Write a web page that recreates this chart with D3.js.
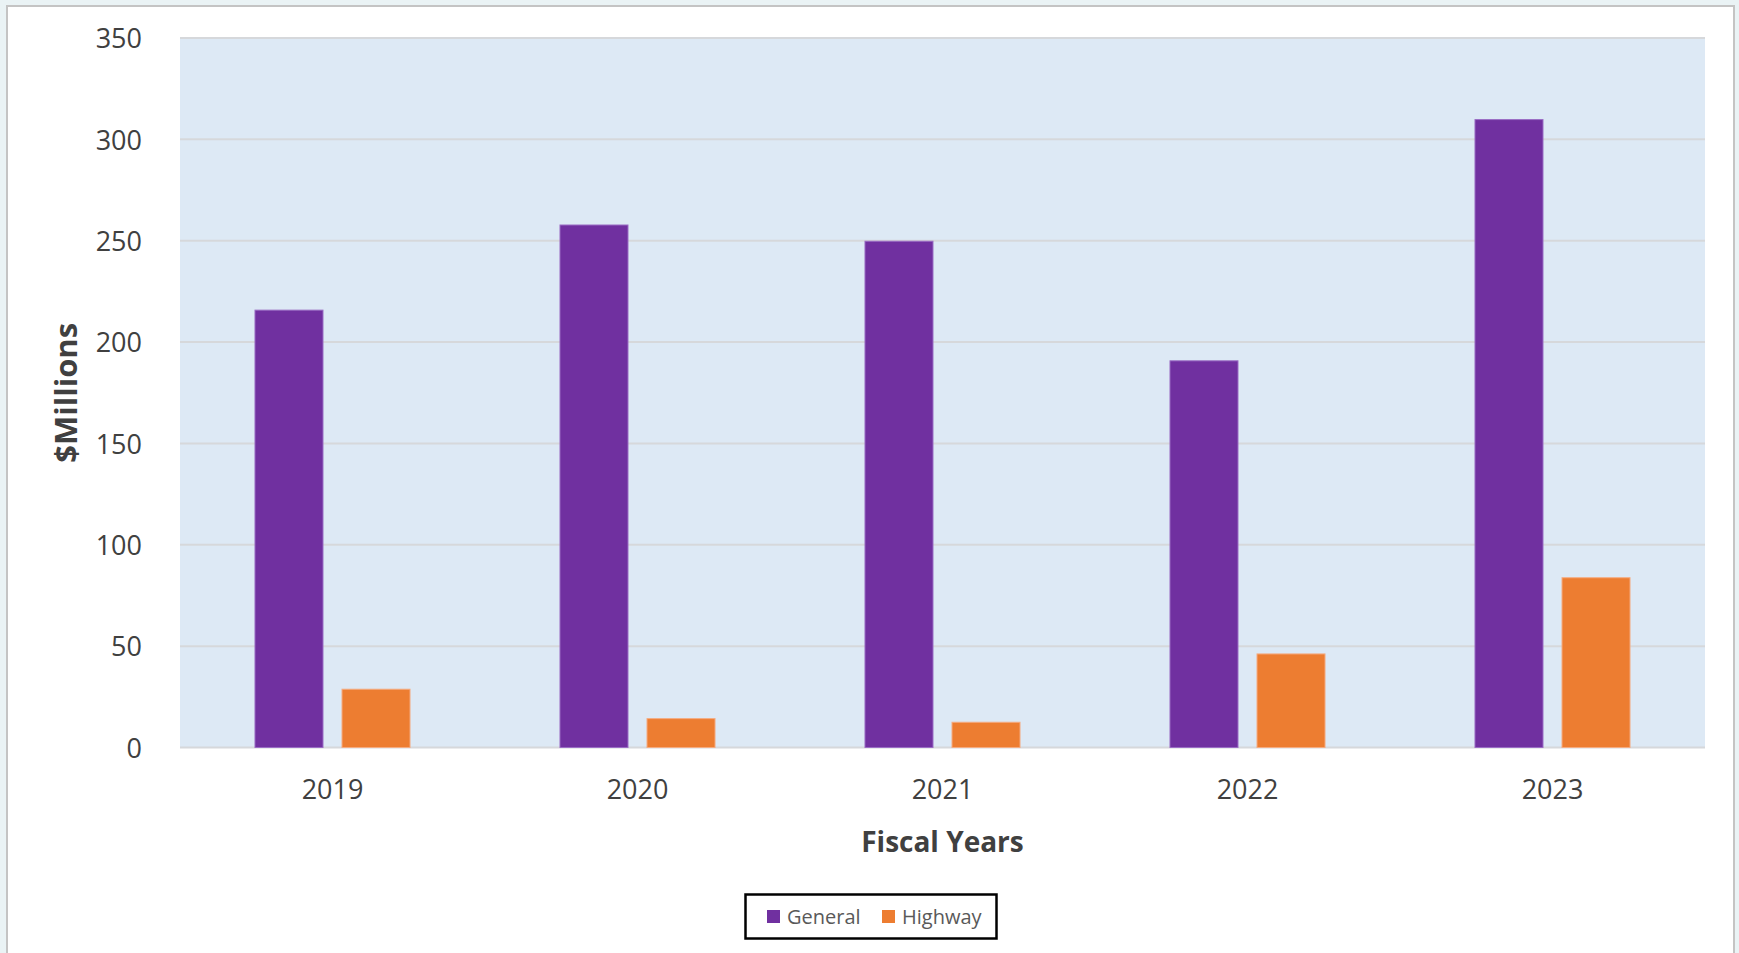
<!DOCTYPE html>
<html>
<head>
<meta charset="utf-8">
<script src="https://cdn.jsdelivr.net/npm/d3@7"></script>
<style>
  html, body { margin: 0; padding: 0; background: #eaf3f5; }
  svg { display: block; }
</style>
</head>
<body>
<svg id="chart" width="1739" height="953"></svg>
<script>
const years = ["2019", "2020", "2021", "2022", "2023"];
const seriesNames = ["General", "Highway"];
const generalValues = [216, 258, 250, 191, 310];
const highwayValues = [29, 14.5, 12.7, 46.4, 84];
const yTicks = [0, 50, 100, 150, 200, 250, 300, 350];
const seriesColors = ["#7030A0", "#ED7D31"];
const seriesStrokes = ["#9a6cc4", "#f5ab80"];

const svg = d3.select("#chart");
const W = 1739, H = 953;
const FONT = "'Open Sans', sans-serif";

// outer frame
svg.append("rect").attr("x", 0).attr("y", 0).attr("width", W).attr("height", H).attr("fill", "#eaf3f5");
svg.append("rect").attr("x", 7).attr("y", 6).attr("width", 1727).attr("height", 960)
  .attr("fill", "#ffffff").attr("stroke", "#c4c4c4").attr("stroke-width", 2);

const plot = { left: 180, right: 1705, top: 38, bottom: 747.5 };

const y = d3.scaleLinear().domain([0, 350]).range([plot.bottom, plot.top]);
const x0 = d3.scaleBand().domain(years).range([plot.left, plot.right]).paddingInner(0).paddingOuter(0);
const x1 = d3.scaleBand().domain(seriesNames).range([0, x0.bandwidth()]).paddingInner(0.207).paddingOuter(0.856);

// plot background
svg.append("rect").attr("x", plot.left).attr("y", plot.top)
  .attr("width", plot.right - plot.left).attr("height", plot.bottom - plot.top)
  .attr("fill", "#dde9f5");

// gridlines
svg.append("g").selectAll("line").data(yTicks).join("line")
  .attr("x1", plot.left).attr("x2", plot.right)
  .attr("y1", d => y(d)).attr("y2", d => y(d))
  .attr("stroke", "#d6d8db").attr("stroke-width", 2);

// y axis labels
const yAxis = d3.axisLeft(y).tickValues(yTicks).tickSize(0).tickPadding(0).tickFormat(d3.format("d"));
const gy = svg.append("g").attr("transform", `translate(${142},0)`).call(yAxis);
gy.select(".domain").remove();
gy.selectAll("text").attr("font-family", FONT).attr("font-size", 27).attr("fill", "#404040").attr("dy", "0.36em");

// x axis labels
const xAxis = d3.axisBottom(x0).tickSize(0).tickPadding(0);
const gx = svg.append("g").attr("transform", `translate(0,${plot.bottom})`).call(xAxis);
gx.select(".domain").remove();
gx.selectAll("text").attr("font-family", FONT).attr("font-size", 27).attr("fill", "#404040")
  .attr("dy", null).attr("y", 51);

// bars
const rows = years.map((yr, i) => ({ year: yr, values: [generalValues[i], highwayValues[i]] }));
const groups = svg.append("g").selectAll("g").data(rows).join("g")
  .attr("transform", d => `translate(${x0(d.year)},0)`);
groups.selectAll("rect").data(d => d.values.map((v, j) => ({ name: seriesNames[j], value: v, j })))
  .join("rect")
  .attr("x", d => x1(d.name) + 0.5)
  .attr("width", x1.bandwidth() - 1)
  .attr("y", d => y(d.value) + 0.5)
  .attr("height", d => y(0) - y(d.value) - 0.5)
  .attr("fill", d => seriesColors[d.j])
  .attr("stroke", d => seriesStrokes[d.j]).attr("stroke-width", 1);

// axis titles
svg.append("text").attr("transform", `translate(77,${(plot.top + plot.bottom) / 2}) rotate(-90)`)
  .attr("text-anchor", "middle").attr("font-family", FONT).attr("font-weight", "bold")
  .attr("font-size", 31).attr("fill", "#404040").text("$Millions");
svg.append("text").attr("x", (plot.left + plot.right) / 2).attr("y", 852)
  .attr("text-anchor", "middle").attr("font-family", FONT).attr("font-weight", "bold")
  .attr("font-size", 28).attr("fill", "#404040").text("Fiscal Years");

// legend
const lg = svg.append("g");
lg.append("rect").attr("x", 745.5).attr("y", 894.5).attr("width", 251).attr("height", 44)
  .attr("fill", "#ffffff").attr("stroke", "#000000").attr("stroke-width", 2.5);
const legendItems = [{ name: seriesNames[0], sx: 767, tx: 787 }, { name: seriesNames[1], sx: 882, tx: 902 }];
legendItems.forEach((it, i) => {
  lg.append("rect").attr("x", it.sx).attr("y", 910).attr("width", 13).attr("height", 13)
    .attr("fill", seriesColors[i]);
  lg.append("text").attr("x", it.tx).attr("y", 924).attr("font-family", FONT)
    .attr("font-size", 20).attr("fill", "#595959").text(it.name);
});
</script>
</body>
</html>
